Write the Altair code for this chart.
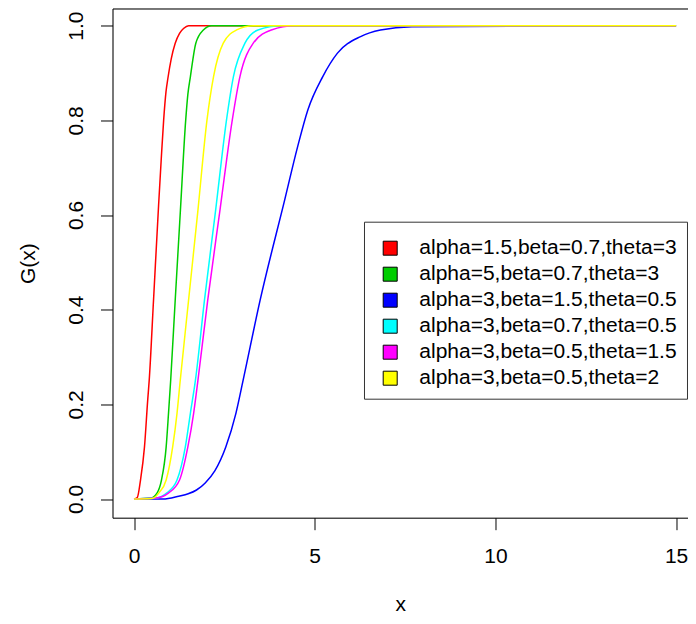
import altair as alt
import pandas as pd

labels = [
    "alpha=1.5,beta=0.7,theta=3",
    "alpha=5,beta=0.7,theta=3",
    "alpha=3,beta=1.5,theta=0.5",
    "alpha=3,beta=0.7,theta=0.5",
    "alpha=3,beta=0.5,theta=1.5",
    "alpha=3,beta=0.5,theta=2",
]
colors = ["#FF0000", "#00CD00", "#0000FF", "#00FFFF", "#FF00FF", "#FFFF00"]

red_x = [0.0, 0.09, 0.18, 0.29, 0.38, 0.42, 0.54, 0.68, 0.755, 0.82, 0.885, 0.94, 1.03, 1.14, 1.26, 1.37, 1.51, 15.0]
red_y = [0.0, 0.003, 0.040, 0.110, 0.210, 0.250, 0.420, 0.620, 0.720, 0.800, 0.860, 0.890, 0.930, 0.963, 0.984, 0.994, 1.0, 1.0]

green_x = [0.0, 0.46, 0.64, 0.76, 0.89, 0.955, 1.015, 1.14, 1.285, 1.43, 1.49, 1.56, 1.71, 1.92, 2.15, 15.0]
green_y = [0.0, 0.002, 0.013, 0.040, 0.110, 0.181, 0.251, 0.420, 0.611, 0.800, 0.855, 0.892, 0.963, 0.991, 1.0, 1.0]

blue_x = [0.0, 0.8, 1.24, 1.5, 1.73, 1.97, 2.24, 2.54, 2.82, 3.02, 3.49, 4.17, 4.53, 4.81, 5.22, 5.63, 6.27, 6.82, 7.69, 15.0]
blue_y = [0.0, 0.0, 0.006, 0.011, 0.019, 0.034, 0.060, 0.110, 0.181, 0.251, 0.420, 0.632, 0.745, 0.822, 0.892, 0.942, 0.977, 0.991, 0.998, 1.0]

cyan_x = [0.0, 0.6, 0.91, 1.19, 1.42, 1.56, 1.70, 1.95, 2.26, 2.56, 2.75, 3.07, 3.43, 4.07, 15.0]
cyan_y = [0.0, 0.002, 0.013, 0.040, 0.110, 0.181, 0.251, 0.420, 0.611, 0.801, 0.892, 0.963, 0.991, 1.0, 1.0]

magenta_x = [0.0, 0.6, 0.96, 1.26, 1.49, 1.65, 1.77, 2.04, 2.38, 2.72, 2.93, 3.30, 3.80, 4.44, 15.0]
magenta_y = [0.0, 0.002, 0.013, 0.040, 0.110, 0.181, 0.251, 0.420, 0.611, 0.801, 0.892, 0.963, 0.991, 1.0, 1.0]

yellow_x = [0.0, 0.5, 0.69, 0.89, 1.07, 1.19, 1.28, 1.51, 1.77, 2.02, 2.20, 2.47, 2.84, 3.30, 15.0]
yellow_y = [0.0, 0.001, 0.013, 0.040, 0.110, 0.181, 0.251, 0.420, 0.611, 0.801, 0.892, 0.963, 0.991, 1.0, 1.0]

x_ticks = [0, 5, 10, 15]
y_ticks = [0.0, 0.2, 0.4, 0.6, 0.8, 1.0]

series_x = [red_x, green_x, blue_x, cyan_x, magenta_x, yellow_x]
series_y = [red_y, green_y, blue_y, cyan_y, magenta_y, yellow_y]

FONT = "Liberation Sans"
FS = 21
INK = "black"

x_scale = alt.Scale(domain=[-0.595, 15.33], nice=False, zero=False)
y_scale = alt.Scale(domain=[-0.0395, 1.0363], nice=False, zero=False)

x_axis = alt.Axis(
    values=x_ticks, format="d", title="x", grid=False,
    domain=True, domainColor=INK, domainWidth=1,
    tickSize=12, tickColor=INK, tickWidth=1,
    labelFont=FONT, labelFontSize=FS, labelColor="black", labelPadding=16,
    labelFlush=False, labelOverlap=False,
    titleFont=FONT, titleFontSize=FS, titleFontWeight="normal", titleColor="black",
    titleBaseline="alphabetic", titleY=93,
)
y_axis = alt.Axis(
    values=y_ticks, format=".1f", title="G(x)", grid=False,
    domain=True, domainColor=INK, domainWidth=1,
    tickSize=12, tickColor=INK, tickWidth=1,
    labelFont=FONT, labelFontSize=FS, labelColor="black", labelPadding=18,
    labelAngle=-90, labelAlign="center", labelBaseline="alphabetic",
    labelFlush=False, labelOverlap=False,
    titleFont=FONT, titleFontSize=FS, titleFontWeight="normal", titleColor="black",
    titleAngle=-90, titleAlign="center", titleBaseline="alphabetic",
    titleX=-78, titleY=254.6,
)
top_axis = alt.Axis(
    orient="top", labels=False, ticks=False, title=None, grid=False,
    domain=True, domainColor=INK, domainWidth=1,
)

layers = []
for i, (lab, col, xs, ys) in enumerate(zip(labels, colors, series_x, series_y)):
    df = pd.DataFrame({"x": xs, "y": ys, "series": lab})
    xe = alt.X("x:Q", scale=x_scale, axis=x_axis if i == 0 else None)
    ye = alt.Y("y:Q", scale=y_scale, axis=y_axis)
    layers.append(
        alt.Chart(df).mark_line(color=col, strokeWidth=1.5, interpolate="monotone", clip=True)
        .encode(x=xe, y=ye)
    )

legend_df = pd.DataFrame({"series": labels, "x": [-5.0] * 6, "y": [0.5] * 6})
legend_layer = alt.Chart(legend_df).mark_square(
    filled=True, size=196, stroke="black", strokeWidth=1, clip=True
).encode(
    x=alt.X("x:Q", scale=x_scale, axis=top_axis),
    y=alt.Y("y:Q", scale=y_scale, axis=y_axis),
    fill=alt.Fill(
        "series:N",
        scale=alt.Scale(domain=labels, range=colors),
        sort=labels,
        legend=alt.Legend(
            title=" ", titleFontSize=1, titlePadding=5,
            orient="none", legendX=251.5, legendY=213.2,
            direction="vertical", symbolType="square", symbolSize=196,
            symbolStrokeColor="black", symbolStrokeWidth=1, symbolOpacity=1,
            labelFont=FONT, labelFontSize=FS, labelColor="black", labelLimit=600,
            padding=10, rowPadding=4, labelOffset=18.6, symbolOffset=5.7,
            strokeColor="#333333", fillColor="white", cornerRadius=0,
        ),
    ),
)

chart = alt.layer(*layers, legend_layer).resolve_axis(x="independent").properties(
    width=575.5,
    height=509.2,
    padding={"left": 104.5, "top": 0.5, "right": 0, "bottom": 98},
    autosize=alt.AutoSizeParams(type="none"),
).configure_view(stroke=None).configure(font=FONT)

chart.save("out.html", embed_options={"renderer": "svg", "actions": False})
